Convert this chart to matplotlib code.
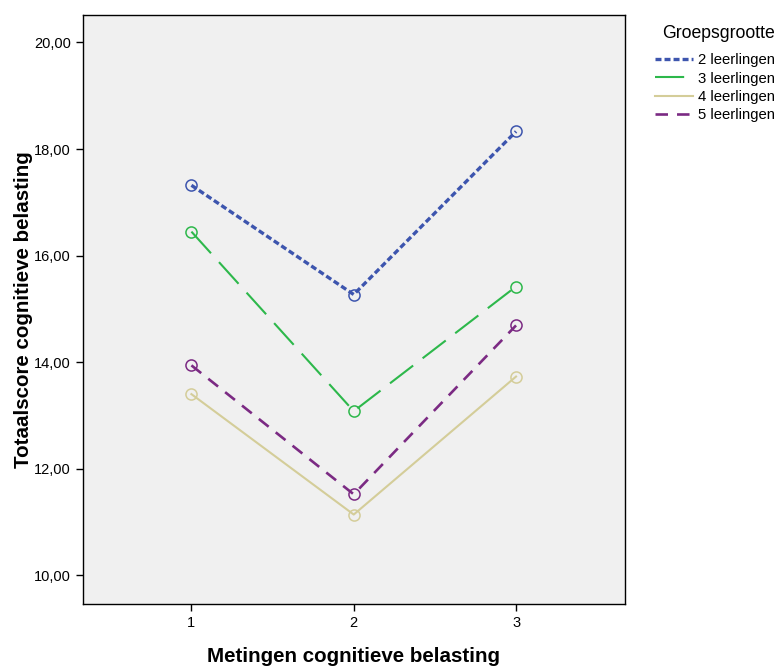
import matplotlib
matplotlib.use('Agg')
import matplotlib.pyplot as plt
from matplotlib.ticker import FuncFormatter

plt.rcParams['lines.scale_dashes'] = False
plt.rcParams['font.family'] = ['Liberation Sans', 'DejaVu Sans']

# Data
metingen = [1, 2, 3]
groepen = ['2 leerlingen', '3 leerlingen', '4 leerlingen', '5 leerlingen']
score_2 = [17.32, 15.27, 18.33]
score_3 = [16.45, 13.08, 15.42]
score_4 = [13.40, 11.14, 13.73]
score_5 = [13.94, 11.52, 14.69]
yticks = [10, 12, 14, 16, 18, 20]

series = [score_2, score_3, score_4, score_5]
colors = ['#3D55AE', '#2DB84B', '#D4CD99', '#7B2A83']
styles = [
    dict(lw=2.4, dashes=(4.3, 2.2)),
    dict(lw=1.5, dashes=(21, 8.6)),
    dict(lw=1.5, ls='-'),
    dict(lw=1.9, dashes=(9, 6.5)),
]

fig = plt.figure(figsize=(7.8, 6.66), dpi=100)
ax = fig.add_axes([0.106, 0.093, 0.695, 0.884])
ax.set_facecolor('#F0F0F0')

for name, vals, col, st in zip(groepen, series, colors, styles):
    ax.plot(metingen, vals, color=col, label=name, **st)
    ax.plot(metingen, vals, ls='none', marker='o', ms=8, mfc='none',
            mec=col, mew=1.1)

ax.set_xlim(0.33, 3.67)
ax.set_ylim(9.46, 20.51)
ax.set_xticks(metingen)
ax.set_yticks(yticks)
ax.yaxis.set_major_formatter(FuncFormatter(lambda v, p: f'{v:.2f}'.replace('.', ',')))
ax.tick_params(direction='out', length=5, width=1, labelsize=10.5, colors='black')
for s in ax.spines.values():
    s.set_linewidth(1)
    s.set_color('black')

ax.set_xlabel('Metingen cognitieve belasting', fontsize=14.8, fontweight='bold', labelpad=12)
ax.set_ylabel('Totaalscore cognitieve belasting', fontsize=14.8, fontweight='bold', labelpad=1)

leg = fig.legend(*ax.get_legend_handles_labels(), loc='upper left',
                 bbox_to_anchor=(655 / 780, 1 - 25 / 666), frameon=False, fontsize=10.7,
                 title='Groepsgrootte', title_fontsize=12.7, handlelength=2.55,
                 handletextpad=0.35, labelspacing=0.3, borderpad=0, borderaxespad=0)
leg._legend_box.sep = 8
leg._legend_box.align = 'right'

fig.savefig('out.png', dpi=100, facecolor='white')
